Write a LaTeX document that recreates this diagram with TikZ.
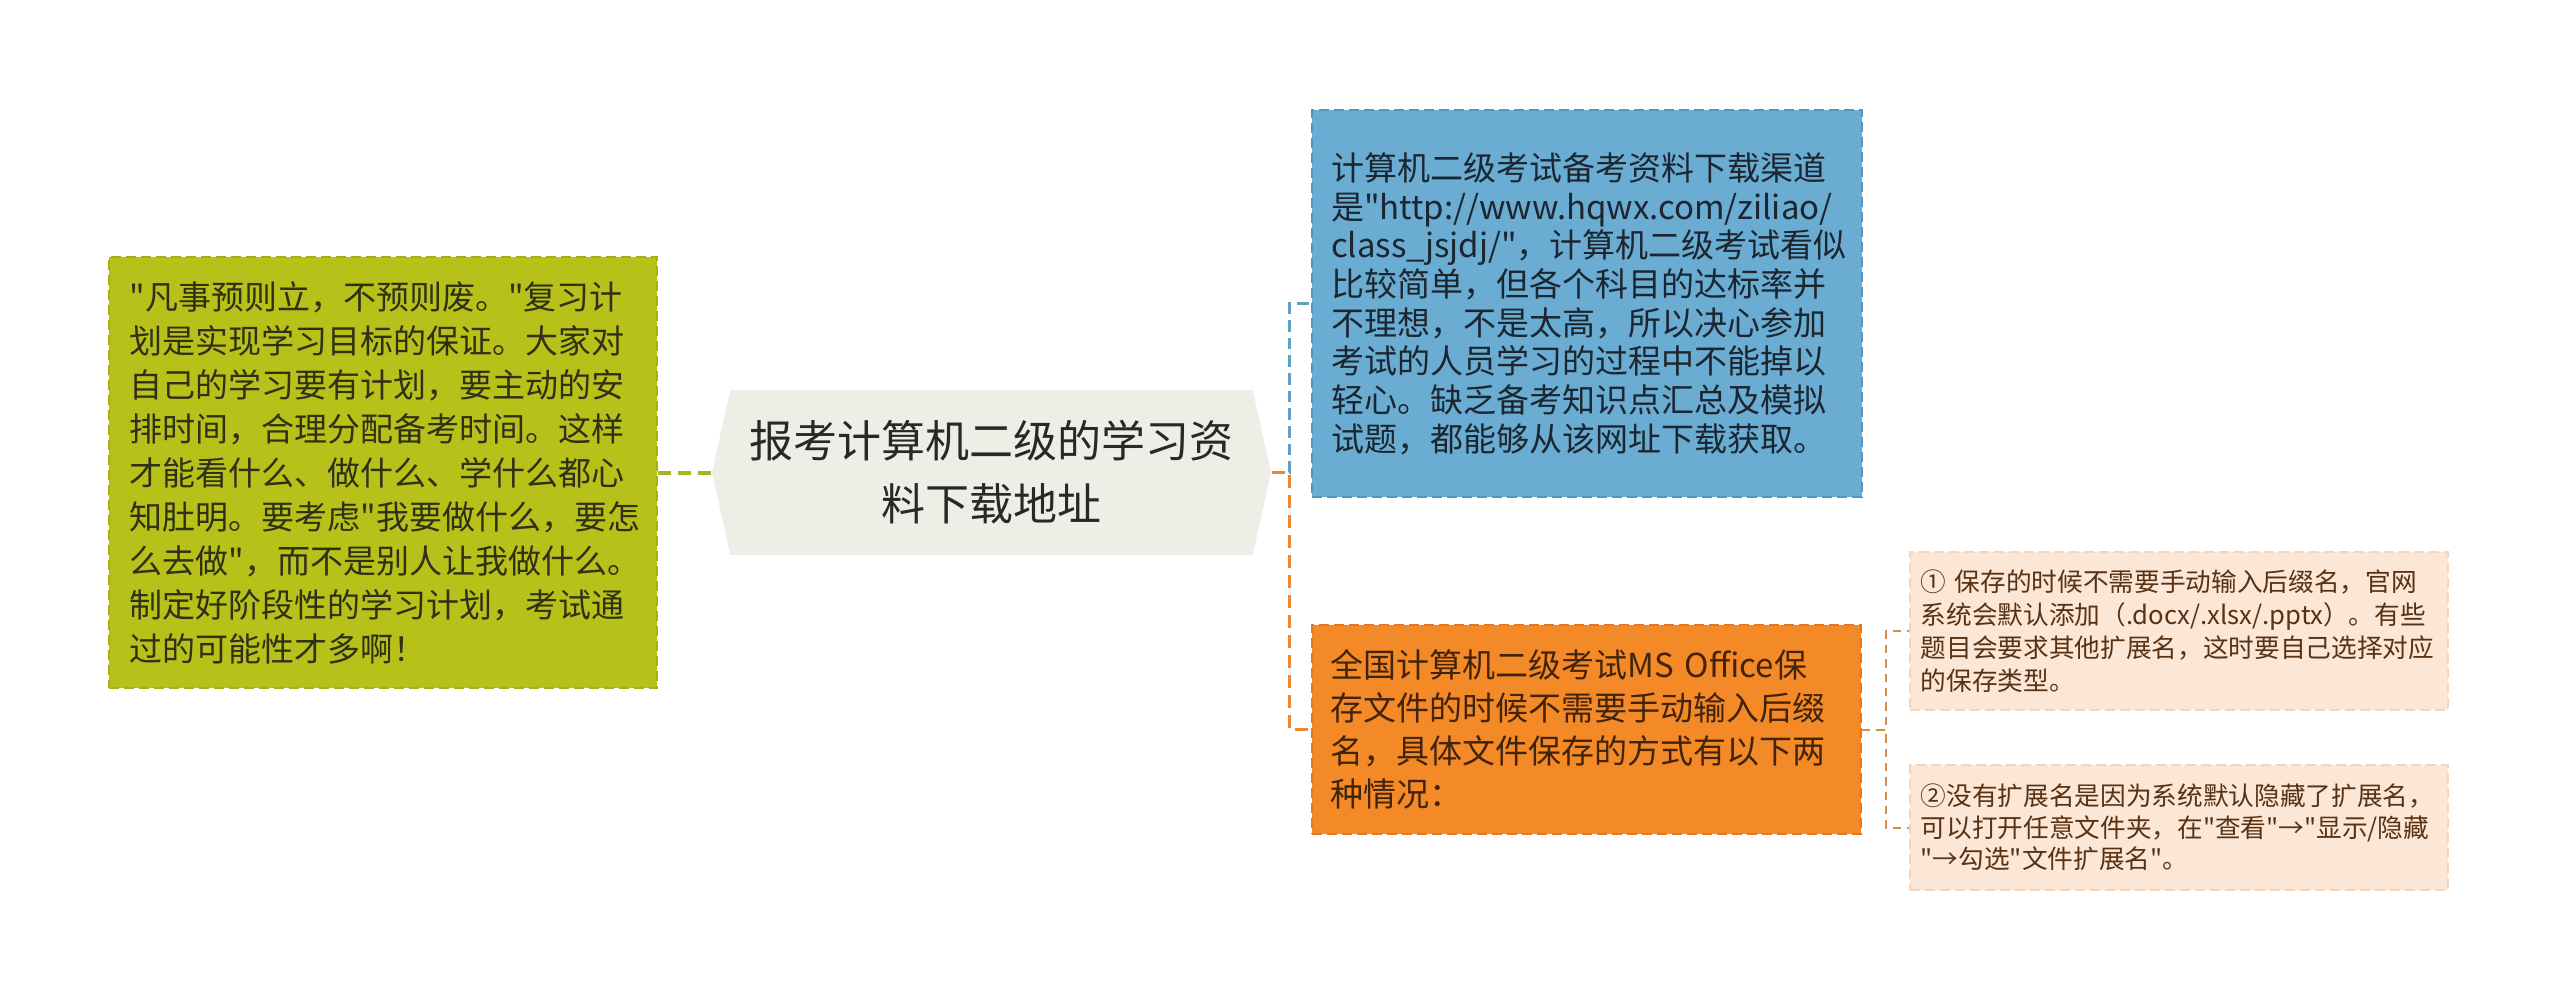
\documentclass[tikz,border=0pt]{standalone}
\usepackage{fontspec}
\setmainfont{Noto Sans CJK SC}[Ligatures=TeXOff]
\usetikzlibrary{shapes.symbols}

\definecolor{leaffill}{RGB}{183,193,26}
\definecolor{leafedge}{RGB}{166,176,18}
\definecolor{rootfill}{RGB}{239,238,230}
\definecolor{urlfill}{RGB}{106,172,210}
\definecolor{urledge}{RGB}{84,150,192}
\definecolor{officefill}{RGB}{244,137,40}
\definecolor{officeedge}{RGB}{228,120,28}
\definecolor{tipfill}{RGB}{252,230,214}
\definecolor{tipedge}{RGB}{245,212,188}
\definecolor{leaflink}{RGB}{170,181,30}
\definecolor{urllink}{RGB}{95,160,200}
\definecolor{officelink}{RGB}{236,136,50}
\definecolor{tiplink}{RGB}{214,142,72}

\begin{document}
\begin{tikzpicture}[
		box/.style={draw, dashed, line width=0.6pt, dash pattern=on 3pt off 1.5pt,
			align=left, inner sep=0pt},
		link/.style={draw, dashed, line width=1pt, dash pattern=on 4pt off 2pt}
	]

	\useasboundingbox[fill=white] (0pt, 0pt) rectangle (768pt, -300.3pt);

	\node[signal, signal to=east and west, signal pointer angle=155, fill=rootfill,
		minimum width=167.7pt, minimum height=49.5pt, inner sep=0pt, align=center,
		text={rgb,255:red,40;green,40;blue,40},
		font=\fontsize{13.2pt}{18.9pt}\selectfont] at (297.45pt, -141.75pt) (root)
		{报考计算机二级的学习资\\料下载地址};

	\node[box, fill=leaffill, draw=leafedge, minimum width=164.4pt, minimum height=129.3pt,
		text width=152pt, text={rgb,255:red,48;green,48;blue,20},
		font=\fontsize{9.9pt}{13.2pt}\selectfont] at (114.9pt, -141.75pt) (plan)
		{"凡事预则立，不预则废。"复习计\\划是实现学习目标的保证。大家对\\自己的学习要有计划，要主动的安\\
		排时间，合理分配备考时间。这样\\才能看什么、做什么、学什么都心\\知肚明。要考虑"我要做什么，要怎\\
		么去做"，而不是别人让我做什么。\\制定好阶段性的学习计划，考试通\\过的可能性才多啊！};

	\node[box, fill=urlfill, draw=urledge, minimum width=165pt, minimum height=116.1pt,
		text width=153.6pt, text={rgb,255:red,28;green,38;blue,48},
		font=\fontsize{9.9pt}{11.6pt}\selectfont] at (476.1pt, -91.05pt) (url)
		{计算机二级考试备考资料下载渠道\\是"http://www.hqwx.com/ziliao/\\class\_jsjdj/"，计算机二级考试看似\\
		比较简单，但各个科目的达标率并\\不理想，不是太高，所以决心参加\\考试的人员学习的过程中不能掉以\\
		轻心。缺乏备考知识点汇总及模拟\\试题，都能够从该网址下载获取。};

	\node[box, fill=officefill, draw=officeedge, minimum width=164.7pt, minimum height=62.7pt,
		text width=153.6pt, text={rgb,255:red,66;green,36;blue,10},
		font=\fontsize{9.9pt}{12.9pt}\selectfont] at (475.95pt, -218.85pt) (office)
		{全国计算机二级考试MS Office保\\存文件的时候不需要手动输入后缀\\名，具体文件保存的方式有以下两\\种情况：};

	\node[box, fill=tipfill, draw=tipedge, minimum width=161.4pt, minimum height=47.4pt,
		text width=155pt, text={rgb,255:red,88;green,50;blue,20},
		font=\fontsize{7.7pt}{9.9pt}\selectfont] at (653.7pt, -189.3pt) (tip1)
		{① 保存的时候不需要手动输入后缀名，官网\\系统会默认添加（.docx/.xlsx/.pptx）。有些\\
		题目会要求其他扩展名，这时要自己选择对应\\的保存类型。};

	\node[box, fill=tipfill, draw=tipedge, minimum width=161.4pt, minimum height=37.5pt,
		text width=155pt, text={rgb,255:red,88;green,50;blue,20},
		font=\fontsize{7.7pt}{9.45pt}\selectfont] at (653.7pt, -248.25pt) (tip2)
		{②没有扩展名是因为系统默认隐藏了扩展名，\\可以打开任意文件夹，在"查看"→"显示/隐藏\\
		"→勾选"文件扩展名"。};

	% connectors
	\draw[link, leaflink, line width=1.2pt] (plan.east) -- (root.west);
	\draw[link, urllink, line width=0.8pt, dash pattern=on 3.5pt off 1.8pt]
		(root.east) -- ++(5.4pt, 0pt) |- (url.west);
	\draw[link, officelink] (root.east) -- ++(5.4pt, 0pt) |- (office.west);
	\foreach \t in {tip1, tip2}{
		\draw[link, tiplink, line width=0.6pt, dash pattern=on 2.5pt off 1.8pt]
			(office.east) -- ++(7.2pt, 0pt) |- (\t.west);
	}

\end{tikzpicture}
\end{document}
